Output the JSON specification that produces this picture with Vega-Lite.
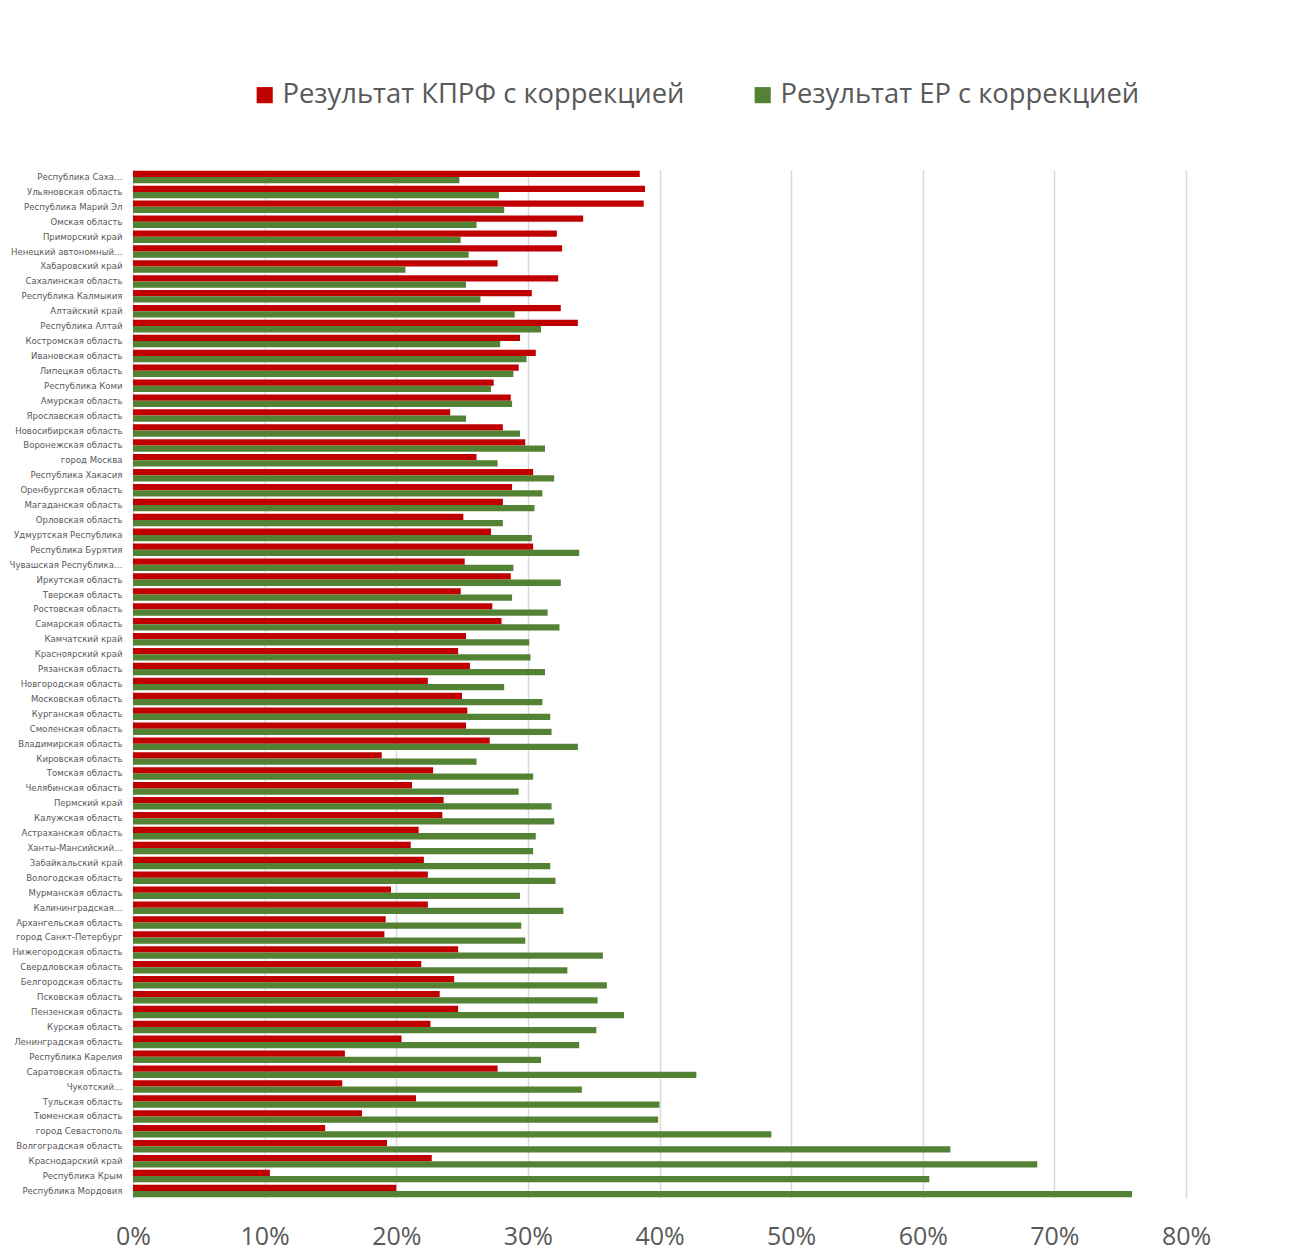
{
  "$schema": "https://vega.github.io/schema/vega-lite/v6.json",
  "autosize": {"type": "none"},
  "width": 1053,
  "height": 1028,
  "padding": {"left": 133, "top": 170, "right": 104, "bottom": 57},
  "background": "white",
  "config": {
    "view": {"stroke": null},
    "font": "Open Sans"
  },
  "data": {
    "values": [
      {"region": "Республика Саха…", "kprf": 38.5, "er": 24.8},
      {"region": "Ульяновская область", "kprf": 38.9, "er": 27.8},
      {"region": "Республика Марий Эл", "kprf": 38.8, "er": 28.2},
      {"region": "Омская область", "kprf": 34.2, "er": 26.1},
      {"region": "Приморский край", "kprf": 32.2, "er": 24.9},
      {"region": "Ненецкий автономный…", "kprf": 32.6, "er": 25.5},
      {"region": "Хабаровский край", "kprf": 27.7, "er": 20.7},
      {"region": "Сахалинская область", "kprf": 32.3, "er": 25.3},
      {"region": "Республика Калмыкия", "kprf": 30.3, "er": 26.4},
      {"region": "Алтайский край", "kprf": 32.5, "er": 29.0},
      {"region": "Республика Алтай", "kprf": 33.8, "er": 31.0},
      {"region": "Костромская область", "kprf": 29.4, "er": 27.9},
      {"region": "Ивановская область", "kprf": 30.6, "er": 29.9},
      {"region": "Липецкая область", "kprf": 29.3, "er": 28.9},
      {"region": "Республика Коми", "kprf": 27.4, "er": 27.2},
      {"region": "Амурская область", "kprf": 28.7, "er": 28.8},
      {"region": "Ярославская область", "kprf": 24.1, "er": 25.3},
      {"region": "Новосибирская область", "kprf": 28.1, "er": 29.4},
      {"region": "Воронежская область", "kprf": 29.8, "er": 31.3},
      {"region": "город Москва", "kprf": 26.1, "er": 27.7},
      {"region": "Республика Хакасия", "kprf": 30.4, "er": 32.0},
      {"region": "Оренбургская область", "kprf": 28.8, "er": 31.1},
      {"region": "Магаданская область", "kprf": 28.1, "er": 30.5},
      {"region": "Орловская область", "kprf": 25.1, "er": 28.1},
      {"region": "Удмуртская Республика", "kprf": 27.2, "er": 30.3},
      {"region": "Республика Бурятия", "kprf": 30.4, "er": 33.9},
      {"region": "Чувашская Республика…", "kprf": 25.2, "er": 28.9},
      {"region": "Иркутская область", "kprf": 28.7, "er": 32.5},
      {"region": "Тверская область", "kprf": 24.9, "er": 28.8},
      {"region": "Ростовская область", "kprf": 27.3, "er": 31.5},
      {"region": "Самарская область", "kprf": 28.0, "er": 32.4},
      {"region": "Камчатский край", "kprf": 25.3, "er": 30.1},
      {"region": "Красноярский край", "kprf": 24.7, "er": 30.2},
      {"region": "Рязанская область", "kprf": 25.6, "er": 31.3},
      {"region": "Новгородская область", "kprf": 22.4, "er": 28.2},
      {"region": "Московская область", "kprf": 25.0, "er": 31.1},
      {"region": "Курганская область", "kprf": 25.4, "er": 31.7},
      {"region": "Смоленская область", "kprf": 25.3, "er": 31.8},
      {"region": "Владимирская область", "kprf": 27.1, "er": 33.8},
      {"region": "Кировская область", "kprf": 18.9, "er": 26.1},
      {"region": "Томская область", "kprf": 22.8, "er": 30.4},
      {"region": "Челябинская область", "kprf": 21.2, "er": 29.3},
      {"region": "Пермский край", "kprf": 23.6, "er": 31.8},
      {"region": "Калужская область", "kprf": 23.5, "er": 32.0},
      {"region": "Астраханская область", "kprf": 21.7, "er": 30.6},
      {"region": "Ханты-Мансийский…", "kprf": 21.1, "er": 30.4},
      {"region": "Забайкальский край", "kprf": 22.1, "er": 31.7},
      {"region": "Вологодская область", "kprf": 22.4, "er": 32.1},
      {"region": "Мурманская область", "kprf": 19.6, "er": 29.4},
      {"region": "Калининградская…", "kprf": 22.4, "er": 32.7},
      {"region": "Архангельская область", "kprf": 19.2, "er": 29.5},
      {"region": "город Санкт-Петербург", "kprf": 19.1, "er": 29.8},
      {"region": "Нижегородская область", "kprf": 24.7, "er": 35.7},
      {"region": "Свердловская область", "kprf": 21.9, "er": 33.0},
      {"region": "Белгородская область", "kprf": 24.4, "er": 36.0},
      {"region": "Псковская область", "kprf": 23.3, "er": 35.3},
      {"region": "Пензенская область", "kprf": 24.7, "er": 37.3},
      {"region": "Курская область", "kprf": 22.6, "er": 35.2},
      {"region": "Ленинградская область", "kprf": 20.4, "er": 33.9},
      {"region": "Республика Карелия", "kprf": 16.1, "er": 31.0},
      {"region": "Саратовская область", "kprf": 27.7, "er": 42.8},
      {"region": "Чукотский…", "kprf": 15.9, "er": 34.1},
      {"region": "Тульская область", "kprf": 21.5, "er": 40.0},
      {"region": "Тюменская область", "kprf": 17.4, "er": 39.9},
      {"region": "город Севастополь", "kprf": 14.6, "er": 48.5},
      {"region": "Волгоградская область", "kprf": 19.3, "er": 62.1},
      {"region": "Краснодарский край", "kprf": 22.7, "er": 68.7},
      {"region": "Республика Крым", "kprf": 10.4, "er": 60.5},
      {"region": "Республика Мордовия", "kprf": 20.0, "er": 75.9}
    ]
  },
  "transform": [
    {"fold": ["kprf", "er"], "as": ["party", "value"]}
  ],
  "mark": {"type": "bar"},
  "encoding": {
    "y": {
      "field": "region",
      "type": "nominal",
      "sort": null,
      "scale": {"paddingInner": 0.16, "paddingOuter": 0.05},
      "axis": {
        "title": null,
        "domain": false,
        "ticks": false,
        "labelFontSize": 9.5,
        "labelFont": "Liberation Sans Narrow, DejaVu Sans Condensed, sans-serif",
        "labelColor": "#595959",
        "labelPadding": 11,
        "labelLimit": 130
      }
    },
    "yOffset": {
      "field": "party",
      "type": "nominal",
      "scale": {"domain": ["kprf", "er"], "paddingInner": 0}
    },
    "x": {
      "field": "value",
      "type": "quantitative",
      "scale": {"domain": [0, 80], "nice": false},
      "axis": {
        "title": null,
        "values": [0, 10, 20, 30, 40, 50, 60, 70, 80],
        "labelExpr": "datum.value + '%'",
        "labelFlush": false,
        "labelFontSize": 25,
        "labelColor": "#595959",
        "labelPadding": 26,
        "domain": false,
        "ticks": false,
        "gridColor": "#d9d9d9",
        "gridWidth": 1.5
      }
    },
    "color": {
      "field": "party",
      "type": "nominal",
      "scale": {"domain": ["kprf", "er"], "range": ["#C00000", "#548235"]},
      "legend": {
        "title": null,
        "orient": "none",
        "legendX": 118,
        "legendY": -89,
        "direction": "horizontal",
        "symbolType": "square",
        "symbolSize": 260,
        "symbolStrokeWidth": 0,
        "labelFontSize": 27.4,
        "labelColor": "#595959",
        "labelOffset": 4,
        "columnPadding": 64,
        "labelLimit": 500,
        "labelExpr": "datum.value == 'kprf' ? 'Результат КПРФ с коррекцией' : 'Результат ЕР с коррекцией'"
      }
    }
  }
}
